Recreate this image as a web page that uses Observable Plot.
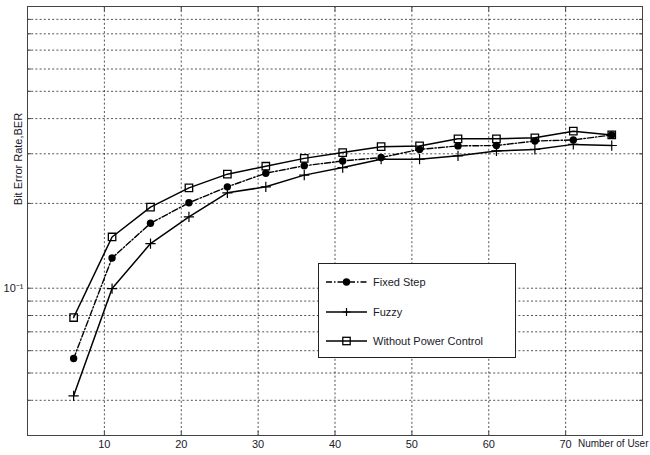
<!DOCTYPE html>
<html>
<head>
<meta charset="utf-8">
<script src="https://cdn.jsdelivr.net/npm/d3@7"></script>
<script src="https://cdn.jsdelivr.net/npm/@observablehq/plot@0.6"></script>
<style>
  html, body { margin: 0; padding: 0; background: #fff; }
  #chart { position: relative; width: 650px; height: 455px; }
</style>
</head>
<body>
<div id="chart"></div>
<script>
// Data
const users = [6, 11, 16, 21, 26, 31, 36, 41, 46, 51, 56, 61, 66, 71, 76];
const fixedStep = [0.0563, 0.128, 0.170, 0.201, 0.229, 0.256, 0.272, 0.283, 0.291, 0.311, 0.320, 0.321, 0.333, 0.336, 0.350];
const fuzzy     = [0.0415, 0.0997, 0.144, 0.179, 0.218, 0.229, 0.252, 0.268, 0.287, 0.287, 0.295, 0.307, 0.311, 0.324, 0.321];
const withoutPC = [0.0787, 0.152, 0.194, 0.227, 0.254, 0.271, 0.289, 0.303, 0.318, 0.320, 0.339, 0.339, 0.342, 0.361, 0.350];
const seriesNames = ["Fixed Step", "Fuzzy", "Without Power Control"];
const xTicks = [10, 20, 30, 40, 50, 60, 70];
const yGrid = [0.04, 0.05, 0.06, 0.07, 0.08, 0.09, 0.1, 0.2, 0.3, 0.4, 0.5, 0.6, 0.7, 0.8, 0.9];
const yTickLabels = [0.1];
const xLabel = "Number of User";
const yLabel = "Bit Error Rate,BER";

const toRows = (vals) => users.map((u, i) => ({x: u, y: vals[i]}));
const rowsFixed = toRows(fixedStep);
const rowsFuzzy = toRows(fuzzy);
const rowsWithout = toRows(withoutPC);

const gridStyle = {stroke: "#000", strokeWidth: 0.8, strokeDasharray: "2,2.2", strokeOpacity: 0.85};
const font = "'Liberation Sans', Arial, sans-serif";

const chart = Plot.plot({
  width: 650,
  height: 455,
  marginLeft: 27,
  marginTop: 6,
  marginRight: 8,
  marginBottom: 20,
  x: {type: "linear", domain: [0, 80]},
  y: {type: "log", domain: [0.03, 1]},
  style: {fontFamily: font, fontSize: "11px", color: "#1a1a2a", background: "#fff"},
  marks: [
    Plot.ruleX(xTicks, gridStyle),
    Plot.ruleY(yGrid, gridStyle),
    Plot.frame({stroke: "#444", strokeWidth: 1}),
    Plot.axisX(xTicks, {anchor: "bottom", tickSize: 0, tickPadding: 5, label: null}),
    Plot.axisX(xTicks, {anchor: "bottom", tickSize: -4, tickFormat: () => "", label: null, stroke: "#444"}),
    Plot.axisX(xTicks, {anchor: "top", tickSize: -4, tickFormat: () => "", label: null, stroke: "#444"}),
    Plot.axisY(yTickLabels, {anchor: "left", tickSize: 0, tickPadding: 4, tickFormat: () => "10\u207B\u00B9", label: null}),
    Plot.axisY(yGrid, {anchor: "left", tickSize: -4, tickFormat: () => "", label: null, stroke: "#444"}),
    Plot.axisY(yGrid, {anchor: "right", tickSize: -4, tickFormat: () => "", label: null, stroke: "#444"}),
    // Fixed Step
    Plot.line(rowsFixed, {x: "x", y: "y", stroke: "#000", strokeWidth: 1.4, strokeDasharray: "6,2,1.5,2"}),
    Plot.dot(rowsFixed, {x: "x", y: "y", r: 3.7, fill: "#000", symbol: "circle"}),
    // Fuzzy
    Plot.line(rowsFuzzy, {x: "x", y: "y", stroke: "#000", strokeWidth: 1.5}),
    Plot.dot(rowsFuzzy, {x: "x", y: "y", r: 3.4, stroke: "#000", strokeWidth: 1.2, symbol: "plus"}),
    // Without Power Control
    Plot.line(rowsWithout, {x: "x", y: "y", stroke: "#000", strokeWidth: 1.5}),
    Plot.dot(rowsWithout, {x: "x", y: "y", r: 4.2, stroke: "#000", strokeWidth: 1.3, fill: "none", symbol: "square"}),
    // axis titles
    Plot.text([yLabel], {text: d => d, frameAnchor: "left", textAnchor: "middle", rotate: -90, dx: -9, dy: -62, fontSize: 11, fill: "#1a1a2a"}),
    Plot.text([xLabel], {text: d => d, frameAnchor: "bottom-right", textAnchor: "end", dx: 6, dy: 11, fontSize: 10, fill: "#1a1a2a"})
  ]
});

document.getElementById("chart").appendChild(chart);

// Legend box inside the plot area
const svg = d3.select(chart);
const lg = svg.append("g").attr("font-family", font).attr("font-size", 11).attr("text-anchor", "start");
lg.append("rect").attr("x", 318.5).attr("y", 263.5).attr("width", 197).attr("height", 94)
  .attr("fill", "#fff").attr("stroke", "#222").attr("stroke-width", 1);
const rowsY = [282, 312, 341];
const styles = [
  {dash: "6,2,1.5,2", marker: "circle"},
  {dash: null, marker: "plus"},
  {dash: null, marker: "square"}
];
seriesNames.forEach((name, i) => {
  const y = rowsY[i];
  const s = styles[i];
  lg.append("line").attr("x1", 326).attr("x2", 367).attr("y1", y).attr("y2", y)
    .attr("stroke", "#000").attr("stroke-width", 1.5).attr("stroke-dasharray", s.dash);
  const cx = 346.5;
  if (s.marker === "circle") {
    lg.append("circle").attr("cx", cx).attr("cy", y).attr("r", 3.7).attr("fill", "#000");
  } else if (s.marker === "plus") {
    lg.append("path").attr("d", `M${cx-4},${y}H${cx+4}M${cx},${y-4}V${y+4}`).attr("stroke", "#000").attr("stroke-width", 1.2);
  } else {
    lg.append("rect").attr("x", cx - 3.7).attr("y", y - 3.7).attr("width", 7.4).attr("height", 7.4)
      .attr("fill", "none").attr("stroke", "#000").attr("stroke-width", 1.3);
  }
  lg.append("text").attr("x", 373).attr("y", y).attr("dy", "0.35em").attr("text-anchor", "start").attr("fill", "#1a1a2a").text(name);
});
</script>
</body>
</html>
